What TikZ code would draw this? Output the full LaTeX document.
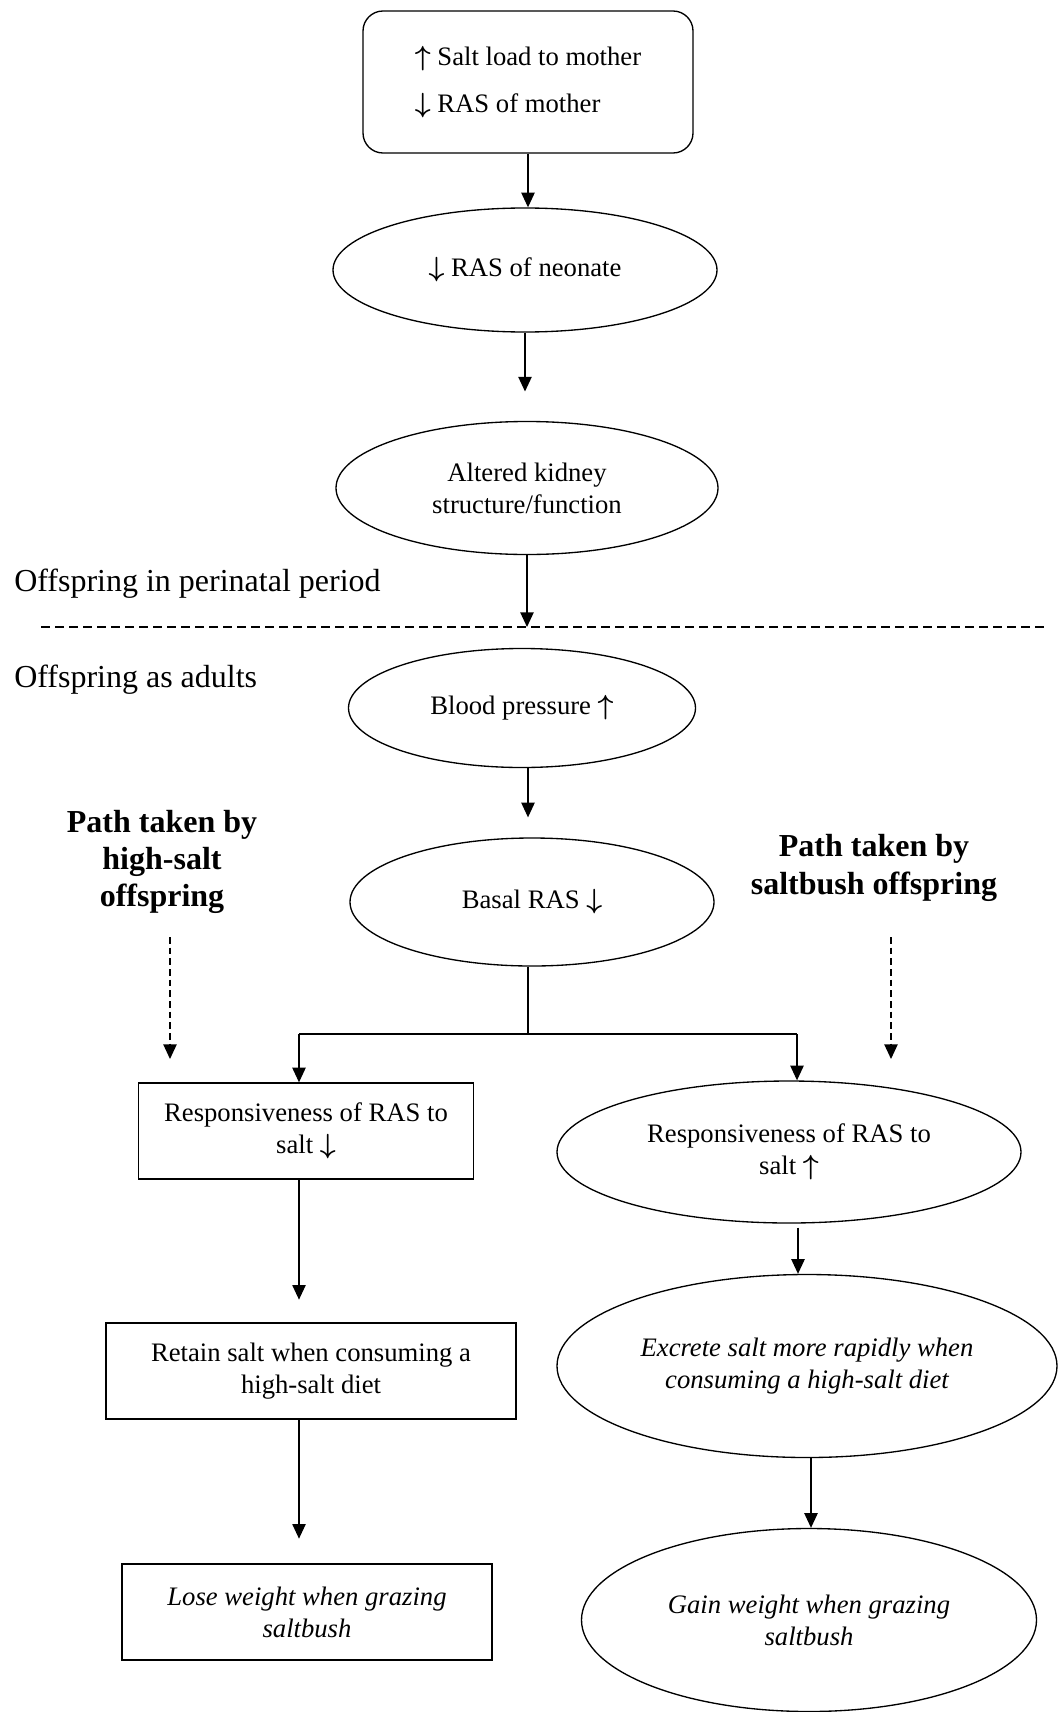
\documentclass[tikz,border=0pt]{standalone}
\usepackage{fontspec}
\setmainfont{Liberation Serif}
\usetikzlibrary{shapes.geometric,arrows.meta}
\newcommand\upar{{\boldmath$\uparrow$}}
\newcommand\dnar{{\boldmath$\downarrow$}}
\begin{document}
\begin{tikzpicture}[x=0.75pt,y=-0.75pt,
  font=\fontsize{20}{24}\selectfont,
  every node/.style={inner sep=0pt},
  ell/.style={draw, ellipse, align=center, line width=1pt},
  box/.style={draw, rectangle, align=center, line width=1pt},
  itx/.style={font=\fontsize{20}{24}\selectfont\itshape},
  arr/.style={line width=1pt, -{Triangle[width=10pt,length=11pt]}},
  darr/.style={arr, dash pattern=on 5pt off 3pt},
  lbl/.style={font=\fontsize{24}{28}\selectfont\bfseries, align=center},
  side/.style={font=\fontsize{24}{28}\selectfont, anchor=west}
]
\useasboundingbox (0,0) rectangle (1060,1712);

% top box
\node[draw, line width=1pt, rounded corners=15pt, minimum width=330*0.75pt, minimum height=142*0.75pt,
      align=left, font=\fontsize{20}{35}\selectfont] (top) at (528,82) {\upar\ Salt load to mother\\\dnar\ RAS of mother};

\node[ell, minimum width=384*0.75pt, minimum height=124*0.75pt] (neo) at (525,270) {\dnar\ RAS of neonate};
\node[ell, minimum width=382*0.75pt, minimum height=133*0.75pt] (kid) at (527,488) {Altered kidney\\structure/function};

% separator
\coordinate (dlL) at (41,627);
\coordinate (dlR) at (1046,627);
\coordinate (dl) at (528,627);
\draw[line width=1pt, dash pattern=on 6.5pt off 4pt] (dlL) -- (dlR);

\node[side] (peri) at (14,584) {Offspring in perinatal period};
\node[side] (adult) at (14,680) {Offspring as adults};

\node[ell, minimum width=347*0.75pt, minimum height=119*0.75pt] (bp) at (522,708) {Blood pressure \upar};
\node[ell, minimum width=364*0.75pt, minimum height=128*0.75pt] (basal) at (532,902) {Basal RAS \dnar};

\node[lbl] (hs) at (162,862) {Path taken by\\high-salt\\offspring};
\node[lbl] (sb) at (874,868) {Path taken by\\saltbush offspring};

% left column
\node[box, minimum width=335*0.75pt, minimum height=96*0.75pt] (r1) at (306,1131) {Responsiveness of RAS to\\salt \dnar};
\node[box, minimum width=410*0.75pt, minimum height=96*0.75pt] (r2) at (311,1371) {Retain salt when consuming a\\high-salt diet};
\node[box, itx, minimum width=370*0.75pt, minimum height=96*0.75pt] (r3) at (307,1612) {Lose weight when grazing\\saltbush};

% right column
\node[ell, minimum width=464*0.75pt, minimum height=142*0.75pt] (e1) at (789,1152) {Responsiveness of RAS to\\salt \upar};
\node[ell, itx, minimum width=500*0.75pt, minimum height=183*0.75pt] (e2) at (807,1366) {Excrete salt more rapidly when\\consuming a high-salt diet};
\node[ell, itx, minimum width=455*0.75pt, minimum height=183*0.75pt] (e3) at (809,1620) {Gain weight when grazing\\saltbush};

% main arrows
\draw[arr] (top.south) -- (top.south |- neo.north);
\draw[arr, shorten >=22pt] (neo.south) -- (neo.south |- kid.north);
\draw[arr] (kid.south) -- (kid.south |- dl);
\coordinate (bx) at (528,0);
\draw[arr, shorten >=15pt] (bp.south -| bx) -- (basal.north -| bx);

% branch
\coordinate (jl) at (299,1034);
\coordinate (jr) at (797,1034);
\draw[line width=1pt] (basal.south -| bx) -- (bx |- jl);
\draw[line width=1pt] (jl) -- (jr);
\draw[arr] (jl) -- (jl |- r1.north);
\draw[arr] (jr) -- (jr |- e1.north);

% left chain
\draw[arr, shorten >=17pt] (r1.south -| jl) -- (r2.north -| jl);
\draw[arr, shorten >=18.5pt] (r2.south -| jl) -- (r3.north -| jl);

% right chain
\coordinate (ra) at (798,0);
\coordinate (rb) at (811,0);
\draw[arr, shorten <=3pt] (e1.south -| ra) -- (e2.north -| ra);
\draw[arr] (e2.south -| rb) -- (e3.north -| rb);

% dashed path arrows
\coordinate (hs1) at (170,937);
\coordinate (hs2) at (170,1059);
\coordinate (sb1) at (891,937);
\coordinate (sb2) at (891,1059);
\draw[darr] (hs1) -- (hs2);
\draw[darr] (sb1) -- (sb2);
\end{tikzpicture}
\end{document}
